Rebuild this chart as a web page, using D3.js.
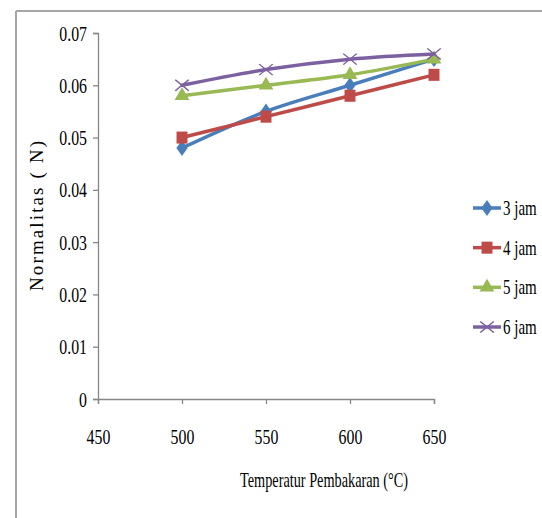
<!DOCTYPE html>
<html><head><meta charset="utf-8">
<script src="https://cdn.jsdelivr.net/npm/d3@7"></script>
<style>body{margin:0;background:#fff}svg{display:block}text{font-family:"Liberation Serif","Times New Roman",serif;fill:#000}</style>
</head><body>
<script>
const temps = [500, 550, 600, 650];
const seriesNames = ["3 jam", "4 jam", "5 jam", "6 jam"];
const jam3 = [0.048, 0.055, 0.060, 0.065];
const jam4 = [0.050, 0.054, 0.058, 0.062];
const jam5 = [0.058, 0.060, 0.062, 0.065];
const jam6 = [0.060, 0.063, 0.065, 0.066];
const xTicks = [450, 500, 550, 600, 650];
const yTicks = [0, 0.01, 0.02, 0.03, 0.04, 0.05, 0.06, 0.07];
const colors = ["#4a7ebb", "#be4b48", "#98b954", "#7d60a0"];
const markers = ["diamond", "square", "triangle", "cross"];
const allSeries = [jam3, jam4, jam5, jam6];

const W = 542, H = 518;
const svg = d3.select("body").append("svg").attr("width", W).attr("height", H);

svg.append("line").attr("x1", 16).attr("x2", W).attr("y1", 11).attr("y2", 11).attr("stroke", "#a6a6a6").attr("stroke-width", 2);
svg.append("line").attr("x1", 16).attr("x2", 16).attr("y1", 11).attr("y2", H).attr("stroke", "#a6a6a6").attr("stroke-width", 2);

const x = d3.scaleLinear().domain([450, 650]).range([98, 434]);
const y = d3.scaleLinear().domain([0, 0.07]).range([399, 33]);

function squeeze(sel, k) {
  sel.each(function () {
    const len = this.getComputedTextLength();
    d3.select(this).attr("textLength", len * k).attr("lengthAdjust", "spacingAndGlyphs");
  });
}

const yAxis = svg.append("g").attr("transform", `translate(${x(450)},0)`)
  .call(d3.axisLeft(y).tickValues(yTicks).tickFormat(d => d === 0 ? "0" : d3.format(".2f")(d)).tickSize(5).tickPadding(6));
const xAxis = svg.append("g").attr("transform", `translate(0,${y(0)})`)
  .call(d3.axisBottom(x).tickValues(xTicks).tickFormat(d3.format("d")).tickSize(5).tickPadding(24));
[yAxis, xAxis].forEach(a => {
  a.select(".domain").attr("stroke", "#868686").attr("stroke-width", 1.3);
  a.selectAll(".tick line").attr("stroke", "#868686").attr("stroke-width", 1.3);
  a.selectAll("text").attr("font-size", 22).attr("font-family", "Liberation Serif").attr("fill", "#000");
});
squeeze(yAxis.selectAll("text"), 0.72);
squeeze(xAxis.selectAll("text"), 0.72);

svg.append("text").attr("transform", "translate(43,216) rotate(-90)").attr("text-anchor", "middle")
  .attr("font-size", 19).attr("textLength", 150).attr("lengthAdjust", "spacing").text("Normalitas ( N)");
svg.append("text").attr("x", 324).attr("y", 487).attr("text-anchor", "middle")
  .attr("font-size", 21).attr("textLength", 168).attr("lengthAdjust", "spacingAndGlyphs").text("Temperatur Pembakaran (°C)");

function drawMarker(g, type, cx, cy, color) {
  if (type === "diamond") {
    g.append("path").attr("d", d3.symbol(d3.symbolDiamond, 90)()).attr("transform", `translate(${cx},${cy}) scale(1.1,0.9)`).attr("fill", color);
  } else if (type === "square") {
    g.append("path").attr("d", d3.symbol(d3.symbolSquare, 120)()).attr("transform", `translate(${cx},${cy}) scale(1,1.1)`).attr("fill", color);
  } else if (type === "triangle") {
    g.append("path").attr("d", d3.symbol(d3.symbolTriangle, 95)()).attr("transform", `translate(${cx},${cy})`).attr("fill", color);
  } else {
    g.append("path").attr("d", d3.symbol(d3.symbolX, 100)()).attr("transform", `translate(${cx},${cy}) scale(1.1,0.9)`)
      .attr("fill", "none").attr("stroke", color).attr("stroke-width", 1.4);
  }
}

const line = d3.line().x((d, i) => x(temps[i])).y(d => y(d)).curve(d3.curveCatmullRom.alpha(0.5));
allSeries.forEach((vals, s) => {
  const g = svg.append("g");
  g.append("path").attr("d", line(vals)).attr("fill", "none").attr("stroke", colors[s]).attr("stroke-width", 3.5).attr("stroke-linecap", "round");
  vals.forEach((v, i) => drawMarker(g, markers[s], x(temps[i]), y(v), colors[s]));
});

const legendY = d3.scalePoint().domain(seriesNames).range([208, 327]);
seriesNames.forEach((name, s) => {
  const ly = legendY(name);
  const g = svg.append("g");
  g.append("line").attr("x1", 473).attr("x2", 501).attr("y1", ly).attr("y2", ly).attr("stroke", colors[s]).attr("stroke-width", 3.5);
  drawMarker(g, markers[s], 487, ly, colors[s]);
  g.append("g").attr("transform", `translate(503,${ly + 7}) scale(0.75,1)`)
    .append("text").attr("x", 0).attr("y", 0).attr("font-size", 20).text(name);
});
</script>
</body></html>
